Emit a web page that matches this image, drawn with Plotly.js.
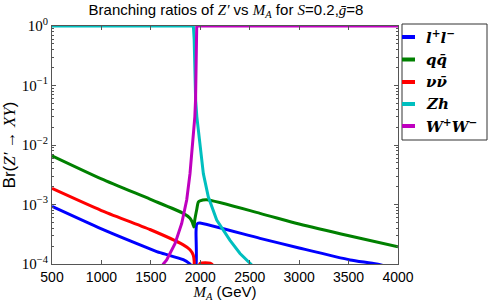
<!DOCTYPE html>
<html>
<head>
<meta charset="utf-8">
<script src="https://cdn.plot.ly/plotly-3.0.1.min.js"></script>
<style>html,body{margin:0;padding:0;background:#fff;}#chart{width:491px;height:302px;}</style>
</head>
<body>
<div id="chart"></div>
<script>
// ---- data ----
var seriesNames = ['<b><i>l</i><sup>+</sup><i>l</i><sup>−</sup></b>', '<b><i>q</i><i>q̄</i></b>', '<b><i>ν</i><i>ν̄</i></b>', '<b><i>Zh</i></b>', '<b><i>W</i><sup>+</sup><i>W</i><sup>−</sup></b>'];
var seriesColors = ['#0000ff', '#008000', '#ff0000', '#00bfbf', '#bf00bf'];

var llMass = [500, 1000, 1491, 1592, 1828, 1896, 1915, 1954, 1957, 1963, 1980, 1997, 2604, 3000, 3515, 3784, 4000];
var llBR   = [9.3e-4, 3.9e-4, 1.8e-4, 1.55e-4, 1.18e-4, 1.0e-4, 9.0e-5, 8.0e-5, 3.5e-4, 4.6e-4, 4.85e-4, 4.9e-4, 2.7e-4, 1.86e-4, 1.17e-4, 1.0e-4, 8.1e-5];

var qqMass = [500, 1000, 1491, 1828, 1896, 1920, 1935, 1945, 1963, 1980, 1997, 2065, 2604, 3000, 3515, 4000];
var qqBR   = [6.6e-3, 2.7e-3, 1.23e-3, 7.1e-4, 5.9e-4, 5.0e-4, 4.2e-4, 5.6e-4, 8.1e-4, 1.1e-3, 1.15e-3, 1.2e-3, 7.1e-4, 4.7e-4, 2.95e-4, 1.95e-4];

var nnMass = [500, 1000, 1491, 1828, 1896, 1929, 1938, 1942, 1975, 1990, 2000, 2050, 2100, 2125, 2160];
var nnBR   = [1.86e-3, 7.9e-4, 3.8e-4, 2.1e-4, 1.74e-4, 1.41e-4, 1.12e-4, 3e-5, 3e-5, 9.6e-5, 1.03e-4, 1.05e-4, 1.03e-4, 9.6e-5, 3e-5];

var zhMass = [500, 1000, 1500, 1930, 1938, 1945, 1953, 1965, 1980, 1997, 2010, 2031, 2081, 2166, 2301, 2402, 2503, 2600];
var zhBR   = [1, 1, 1, 1, 0.6, 0.15, 0.057, 0.03, 0.018, 0.011, 6e-3, 3.3e-3, 1.35e-3, 5.5e-4, 2.5e-4, 1.5e-4, 1.03e-4, 7e-5];

var wwMass = [1580, 1626, 1660, 1744, 1812, 1863, 1896, 1929, 1945, 1952, 1958, 1964, 2500, 3000, 3500, 4000];
var wwBR   = [6e-5, 1.0e-4, 1.17e-4, 2.2e-4, 4.8e-4, 1.2e-3, 3.3e-3, 0.012, 0.03, 0.057, 0.2, 1, 1, 1, 1, 1];

var xTicks = [500, 1000, 1500, 2000, 2500, 3000, 3500, 4000];
var yTicks = [1e-4, 1e-3, 1e-2, 1e-1, 1];
var yTickLabels = ['10<sup>−4</sup>', '10<sup>−3</sup>', '10<sup>−2</sup>', '10<sup>−1</sup>', '10<sup>0</sup>'];

// ---- build ----
var masses = [llMass, qqMass, nnMass, zhMass, wwMass];
var brs = [llBR, qqBR, nnBR, zhBR, wwBR];
var smooth = [0.6, 0.6, 0.6, 0, 0];
var traces = masses.map(function (m, i) {
  var ln = {color: seriesColors[i], width: 3};
  if (smooth[i] > 0) { ln.shape = 'spline'; ln.smoothing = smooth[i]; }
  return {x: m, y: brs[i], type: 'scatter', mode: 'lines', name: seriesNames[i],
          line: ln, showlegend: false, hoverinfo: 'skip'};
});

var minorVals = [];
for (var e = -4; e < 0; e++) for (var k = 2; k <= 9; k++) minorVals.push(k * Math.pow(10, e));

// plot area in px: x 52..398, y 26..264
var L = 52, R = 398, T = 26, B = 264;
function px2x(p) { return (p - L) / (R - L); }
function py2y(p) { return (B - p) / (B - T); }

var shapes = [{type: 'rect', xref: 'paper', yref: 'paper', x0: px2x(402), x1: px2x(487), y0: py2y(140), y1: py2y(24),
               line: {color: '#333', width: 1}, fillcolor: '#fff', layer: 'above'}];
var annotations = [];
var rowY = [37, 59.5, 82, 104, 126];
seriesNames.forEach(function (nm, i) {
  shapes.push({type: 'line', xref: 'paper', yref: 'paper', x0: px2x(402), x1: px2x(415), y0: py2y(rowY[i]), y1: py2y(rowY[i]),
               line: {color: seriesColors[i], width: 4}, layer: 'above'});
  annotations.push({xref: 'paper', yref: 'paper', x: px2x(424), y: py2y(rowY[i]), xanchor: 'left', yanchor: 'middle',
                    text: nm, showarrow: false, font: {family: 'DejaVu Serif', size: 15, color: '#000'}});
});

var MATH = 'Liberation Serif';
var layout = {
  width: 491, height: 302,
  margin: {l: L, r: 491 - R, t: T, b: 302 - B, pad: 0},
  paper_bgcolor: '#fff', plot_bgcolor: '#fff',
  font: {family: 'Liberation Sans', size: 14, color: '#000'},
  title: {text: 'Branching ratios of <span style="font-family:' + MATH + '"><i>Z′</i></span> vs <span style="font-family:' + MATH + '"><i>M<sub>A</sub></i></span> for <span style="font-family:' + MATH + '"><i>S</i></span>=0.2,<span style="font-family:' + MATH + '"><i>ḡ</i></span>=8',
          x: (226 / 491), xanchor: 'center', y: 1 - 10 / 302, yanchor: 'middle', xref: 'container', yref: 'container',
          font: {family: 'Liberation Sans', size: 15, color: '#000'}},
  xaxis: {range: [500, 4000], tickmode: 'array', tickvals: xTicks, ticktext: xTicks.map(String),
          ticks: 'inside', ticklen: 4, tickcolor: '#555', mirror: 'ticks', showline: true, linecolor: '#555', linewidth: 1,
          showgrid: false, zeroline: false, tickfont: {family: 'Liberation Sans', size: 14},
          title: {text: '<span style="font-family:' + MATH + '"><i>M<sub>A</sub></i></span> (GeV)', font: {family: 'Liberation Sans', size: 15}, standoff: 0}},
  yaxis: {type: 'log', range: [-4, 0], tickmode: 'array', tickvals: yTicks, ticktext: yTickLabels,
          ticks: 'inside', ticklen: 4, tickcolor: '#555', mirror: 'ticks', showline: true, linecolor: '#555', linewidth: 1,
          showgrid: false, zeroline: false, tickfont: {family: MATH, size: 15},
          minor: {tickvals: minorVals, ticks: 'inside', ticklen: 2, tickcolor: '#555', showgrid: false},
          title: {text: 'Br(<span style="font-family:' + MATH + '"><i>Z′</i> → <i>XY</i></span>)', font: {family: 'Liberation Sans', size: 17}, standoff: 6}},
  shapes: shapes,
  annotations: annotations,
  showlegend: false
};

Plotly.newPlot('chart', traces, layout, {displayModeBar: false, staticPlot: true});
</script>
</body>
</html>
